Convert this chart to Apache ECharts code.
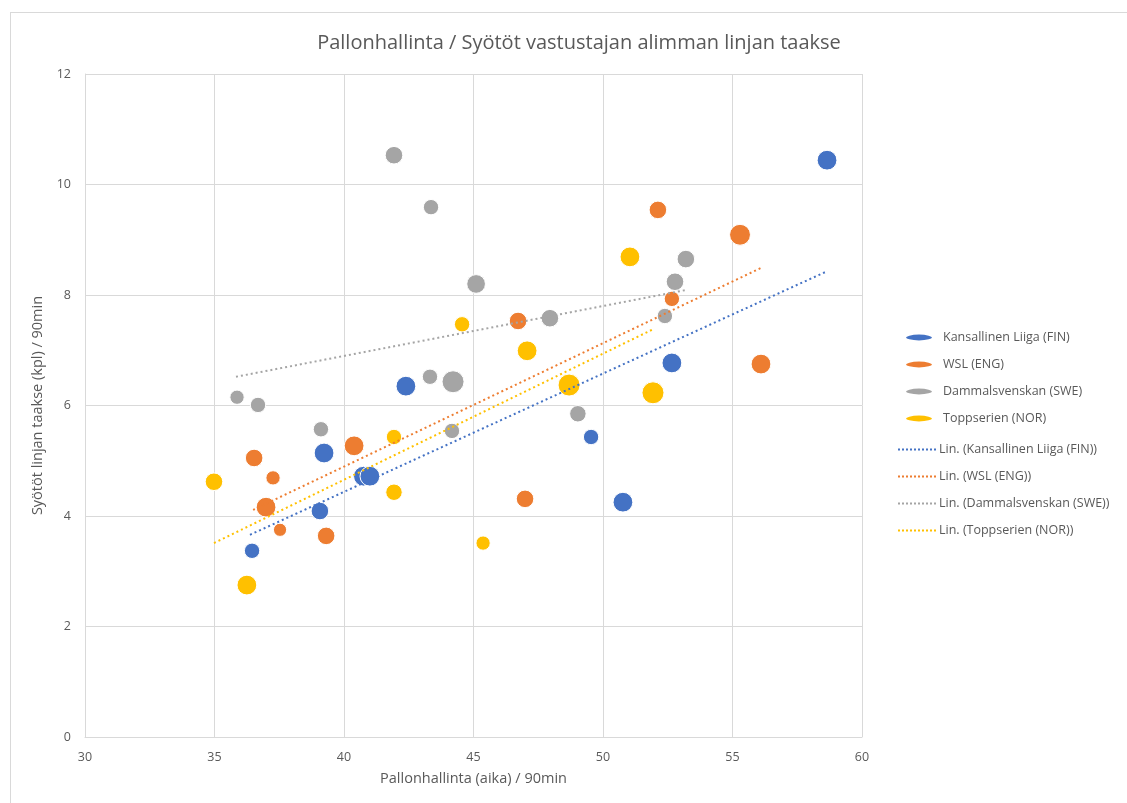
<!DOCTYPE html>
<html><head><meta charset="utf-8">
<script src="https://cdn.jsdelivr.net/npm/echarts@6/dist/echarts.min.js"></script>
<style>
html,body{margin:0;padding:0;background:#fff;}
#frame{position:absolute;left:10px;top:12px;width:1117px;height:791px;border-left:1px solid #d9d9d9;border-top:1px solid #d9d9d9;}
#chart{position:absolute;left:0;top:0;width:1127px;height:803px;}
</style></head>
<body><div id="frame"></div><div id="chart"></div>
<script>
// Series names
const seriesNames = ['Kansallinen Liiga (FIN)', 'WSL (ENG)', 'Dammalsvenskan (SWE)', 'Toppserien (NOR)'];
const trendNames = ['Lin. (Kansallinen Liiga (FIN))', 'Lin. (WSL (ENG))', 'Lin. (Dammalsvenskan (SWE))', 'Lin. (Toppserien (NOR))'];

// Kansallinen Liiga (FIN): possession, passes behind line, bubble value
const finX = [58.65, 52.66, 42.39, 39.23, 40.75, 41.00, 39.07, 36.45, 49.54, 50.77];
const finY = [10.44, 6.77, 6.35, 5.14, 4.72, 4.72, 4.09, 3.37, 5.43, 4.25];
const finZ = [9, 9, 9, 9, 9, 9, 8, 7, 7, 9];

// WSL (ENG)
const engX = [52.12, 55.29, 52.66, 46.72, 56.10, 46.99, 40.39, 36.53, 37.26, 36.99, 37.53, 39.31];
const engY = [9.54, 9.09, 7.93, 7.53, 6.75, 4.31, 5.27, 5.05, 4.69, 4.16, 3.75, 3.64];
const engZ = [8, 9.5, 7, 8, 9, 8, 9, 8, 6.5, 9, 6, 8];

// Dammalsvenskan (SWE)
const sweX = [41.93, 43.36, 45.10, 53.20, 52.78, 52.39, 47.95, 43.32, 44.21, 35.87, 36.68, 39.11, 49.03, 44.17];
const sweY = [10.53, 9.59, 8.20, 8.65, 8.24, 7.62, 7.58, 6.52, 6.43, 6.15, 6.01, 5.57, 5.85, 5.54];
const sweZ = [8, 7, 8.5, 8, 8, 7, 8, 7, 10, 6.5, 7, 7, 7.5, 7];

// Toppserien (NOR)
const norX = [51.04, 44.56, 47.07, 48.69, 51.93, 41.93, 41.93, 34.98, 45.37, 36.25];
const norY = [8.69, 7.47, 6.99, 6.37, 6.23, 5.43, 4.43, 4.62, 3.51, 2.75];
const norZ = [9, 7, 9, 10, 10, 7, 7.5, 8, 6.5, 9];

// Linear trend lines (start/end)
const trendX = [[36.37, 58.65], [36.49, 56.10], [35.83, 53.20], [34.98, 51.89]];
const trendY = [[3.66, 8.43], [4.11, 8.49], [6.52, 8.09], [3.51, 7.37]];

// Axis ticks
const xTicks = [30, 35, 40, 45, 50, 55, 60];
const yTicks = [0, 2, 4, 6, 8, 10, 12];

const colors = ['#4472C4', '#ED7D31', '#A5A5A5', '#FFC000'];
const font = 'Open Sans';
const textColor = '#595959';

function pts(xs, ys, zs) { return xs.map((x, i) => [x, ys[i], zs[i]]); }
const groups = [pts(finX, finY, finZ), pts(engX, engY, engZ), pts(sweX, sweY, sweZ), pts(norX, norY, norZ)];

// dotted line icon path for trend legend
let dotPath = 'path://';
for (let i = 0; i < 10; i++) { dotPath += 'M' + (i * 4) + ',0h2v2h-2z'; }
const ellipsePath = 'path://M0,4A14,4 0 1,1 28,4A14,4 0 1,1 0,4Z';

const series = [];
groups.forEach((g, i) => {
  series.push({
    name: seriesNames[i], type: 'scatter', data: g,
    symbolSize: d => d[2] * 2.2,
    itemStyle: { color: colors[i], opacity: 1, borderColor: '#ffffff', borderWidth: 1 },
    z: 3
  });
});
trendX.forEach((tx, i) => {
  series.push({
    name: trendNames[i], type: 'line',
    data: [[tx[0], trendY[i][0]], [tx[1], trendY[i][1]]],
    symbol: 'none', showSymbol: false,
    lineStyle: { color: colors[i], width: 2, type: [2, 3] },
    itemStyle: { color: colors[i] },
    z: 4, silent: true
  });
});

const chart = echarts.init(document.getElementById('chart'));
chart.setOption({
  animation: false,
  color: colors,
  title: {
    text: 'Pallonhallinta / Syötöt vastustajan alimman linjan taakse',
    left: 574, top: 28, textAlign: 'center',
    textStyle: { fontFamily: font, fontSize: 20, fontWeight: 'normal', color: textColor }
  },
  grid: { left: 85, right: 265, top: 74, bottom: 66 },
  legend: [{
    data: seriesNames.map(n => ({ name: n, icon: ellipsePath })), orient: 'vertical', left: 899, top: 326,
    itemWidth: 28, itemHeight: 8, itemGap: 14,
    textStyle: { fontFamily: font, fontSize: 12.5, color: textColor, padding: [0, 0, 0, 5] }
  }, {
    data: trendNames.map((n, i) => ({ name: n, icon: dotPath, itemStyle: { color: colors[i] } })),
    orient: 'vertical', left: 893, top: 438,
    itemWidth: 38, itemHeight: 2, itemGap: 14,
    textStyle: { fontFamily: font, fontSize: 12.5, color: textColor, padding: [0, 0, 0, -2] }
  }],
  xAxis: {
    type: 'value', min: xTicks[0], max: xTicks[xTicks.length - 1], interval: 5,
    name: 'Pallonhallinta (aika) / 90min', nameLocation: 'middle', nameGap: 34,
    nameTextStyle: { fontFamily: font, fontSize: 14.5, color: textColor },
    axisLine: { show: true, lineStyle: { color: '#d9d9d9' } },
    axisTick: { show: false },
    axisLabel: { fontFamily: font, fontSize: 12.5, color: textColor, margin: 14 },
    splitLine: { show: true, lineStyle: { color: '#d9d9d9', width: 1 } }
  },
  yAxis: {
    type: 'value', min: yTicks[0], max: yTicks[yTicks.length - 1], interval: 2,
    name: 'Syötöt linjan taakse (kpl) / 90min', nameLocation: 'middle', nameGap: 34,
    nameTextStyle: { fontFamily: font, fontSize: 14.5, color: textColor },
    axisLine: { show: true, lineStyle: { color: '#d9d9d9' } },
    axisTick: { show: false },
    axisLabel: { fontFamily: font, fontSize: 12.5, color: textColor, margin: 14 },
    splitLine: { show: true, lineStyle: { color: '#d9d9d9', width: 1 } }
  },
  series: series
});
</script>
</body></html>
